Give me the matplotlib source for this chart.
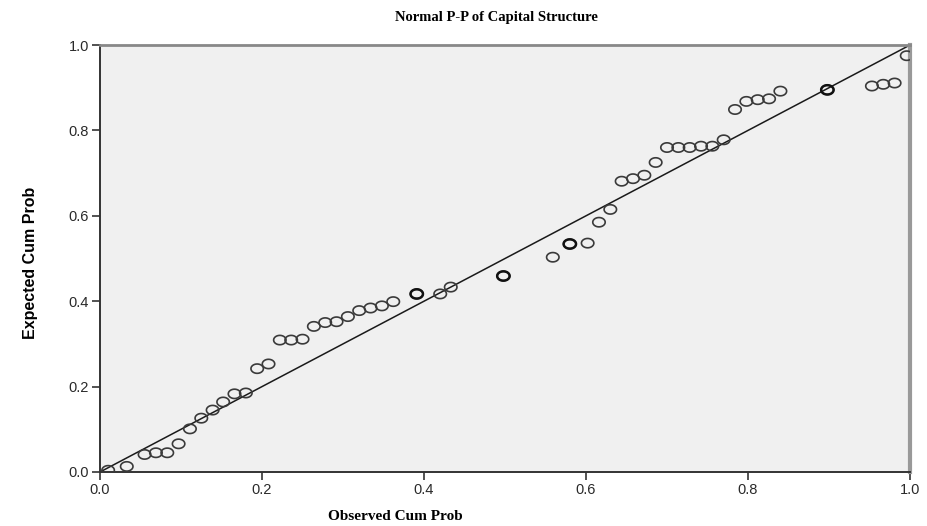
import matplotlib
matplotlib.use('Agg')
import matplotlib.pyplot as plt
import numpy as np
from matplotlib.path import Path

# observed vs expected cumulative probabilities
observed = [0.010, 0.033, 0.055, 0.069, 0.083, 0.097, 0.111, 0.125, 0.139, 0.152,
            0.166, 0.180, 0.194, 0.208, 0.222, 0.236, 0.250, 0.264, 0.278, 0.292,
            0.306, 0.320, 0.334, 0.348, 0.362, 0.391, 0.420, 0.433, 0.498, 0.559,
            0.580, 0.602, 0.616, 0.630, 0.644, 0.658, 0.672, 0.686, 0.700, 0.714,
            0.728, 0.742, 0.756, 0.770, 0.784, 0.798, 0.812, 0.826, 0.840, 0.898,
            0.953, 0.967, 0.981, 0.996]
expected = [0.004, 0.013, 0.041, 0.045, 0.045, 0.066, 0.101, 0.126, 0.145, 0.164,
            0.183, 0.185, 0.242, 0.253, 0.309, 0.309, 0.311, 0.341, 0.350, 0.352,
            0.364, 0.378, 0.384, 0.389, 0.399, 0.417, 0.417, 0.433, 0.459, 0.503,
            0.534, 0.536, 0.585, 0.615, 0.681, 0.687, 0.695, 0.725, 0.760, 0.760,
            0.760, 0.763, 0.763, 0.778, 0.849, 0.868, 0.872, 0.874, 0.892, 0.895,
            0.904, 0.908, 0.911, 0.975]
# tied observations, drawn twice
repeated = [0.391, 0.498, 0.580, 0.898]

ticks = [0.0, 0.2, 0.4, 0.6, 0.8, 1.0]
tick_labels = ['0.0', '0.2', '0.4', '0.6', '0.8', '1.0']

# slightly wide open marker
t = np.linspace(0, 2 * np.pi, 60)
ellipse = Path(np.column_stack([np.cos(t), 0.75 * np.sin(t)]), closed=True)

fig = plt.figure(figsize=(9.28, 5.26), dpi=100)
ax = fig.add_axes([0.1078, 0.1027, 0.8728, 0.8117])
ax.set_facecolor('#f0f0f0')

ax.plot([0, 1], [0, 1], color='#1a1a1a', lw=1.1, zorder=2)
ax.scatter(observed, expected, marker=ellipse, s=80, facecolors='none',
           edgecolors='#3a3a3a', linewidths=1.2, zorder=3)
dup_x = [x for x in observed if x in repeated]
dup_y = [y for x, y in zip(observed, expected) if x in repeated]
ax.scatter(dup_x, dup_y, marker=ellipse, s=80, facecolors='none',
           edgecolors='#111111', linewidths=1.8, zorder=4)

ax.set_xlim(0, 1)
ax.set_ylim(0, 1)
ax.set_xticks(ticks)
ax.set_xticklabels(tick_labels)
ax.set_yticks(ticks)
ax.set_yticklabels(tick_labels)
ax.tick_params(direction='out', length=6, width=1.2, color='#333333',
               labelsize=10.5, labelcolor='#2a2a2a', pad=2)
for lab in ax.get_xticklabels() + ax.get_yticklabels():
    lab.set_family(['Liberation Sans', 'DejaVu Sans'])

ax.spines['left'].set_color('#333333')
ax.spines['bottom'].set_color('#333333')
ax.spines['left'].set_linewidth(1.4)
ax.spines['bottom'].set_linewidth(1.4)
ax.spines['top'].set_color('#888888')
ax.spines['top'].set_linewidth(2.0)
ax.spines['right'].set_color('#999999')
ax.spines['right'].set_linewidth(3.0)

fig.text(0.535, 0.967, 'Normal P-P of Capital Structure', ha='center', va='center',
         fontsize=10.5, fontweight='bold', family=['Liberation Serif', 'DejaVu Serif'])
fig.text(0.426, 0.019, 'Observed Cum Prob', ha='center', va='center',
         fontsize=11, fontweight='bold', family=['Liberation Serif', 'DejaVu Serif'])
fig.text(0.033, 0.5, 'Expected Cum Prob', ha='center', va='center', rotation=90,
         fontsize=11.5, fontweight='bold',
         family=['Liberation Sans Narrow', 'Liberation Sans', 'DejaVu Sans'])

fig.savefig('out.png', dpi=100)
